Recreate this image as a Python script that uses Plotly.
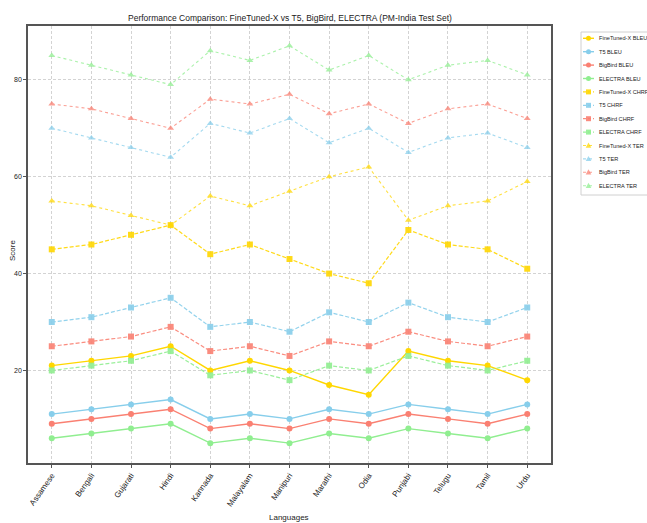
import plotly.graph_objects as go

# Languages in the PM-India test set
languages = ["Assamese", "Bengali", "Gujarati", "Hindi", "Kannada", "Malayalam",
             "Manipuri", "Marathi", "Odia", "Punjabi", "Telugu", "Tamil", "Urdu"]

# BLEU scores
finetuned_bleu = [21, 22, 23, 25, 20, 22, 20, 17, 15, 24, 22, 21, 18]
t5_bleu = [11, 12, 13, 14, 10, 11, 10, 12, 11, 13, 12, 11, 13]
bigbird_bleu = [9, 10, 11, 12, 8, 9, 8, 10, 9, 11, 10, 9, 11]
electra_bleu = [6, 7, 8, 9, 5, 6, 5, 7, 6, 8, 7, 6, 8]

# CHRF scores
finetuned_chrf = [45, 46, 48, 50, 44, 46, 43, 40, 38, 49, 46, 45, 41]
t5_chrf = [30, 31, 33, 35, 29, 30, 28, 32, 30, 34, 31, 30, 33]
bigbird_chrf = [25, 26, 27, 29, 24, 25, 23, 26, 25, 28, 26, 25, 27]
electra_chrf = [20, 21, 22, 24, 19, 20, 18, 21, 20, 23, 21, 20, 22]

# TER scores
finetuned_ter = [55, 54, 52, 50, 56, 54, 57, 60, 62, 51, 54, 55, 59]
t5_ter = [70, 68, 66, 64, 71, 69, 72, 67, 70, 65, 68, 69, 66]
bigbird_ter = [75, 74, 72, 70, 76, 75, 77, 73, 75, 71, 74, 75, 72]
electra_ter = [85, 83, 81, 79, 86, 84, 87, 82, 85, 80, 83, 84, 81]

model_colors = {"FineTuned-X": "#FFD700", "T5": "#87CEEB",
                "BigBird": "#FA8072", "ELECTRA": "#90EE90"}

series = [
    ("FineTuned-X BLEU", finetuned_bleu, "FineTuned-X", "BLEU"),
    ("T5 BLEU", t5_bleu, "T5", "BLEU"),
    ("BigBird BLEU", bigbird_bleu, "BigBird", "BLEU"),
    ("ELECTRA BLEU", electra_bleu, "ELECTRA", "BLEU"),
    ("FineTuned-X CHRF", finetuned_chrf, "FineTuned-X", "CHRF"),
    ("T5 CHRF", t5_chrf, "T5", "CHRF"),
    ("BigBird CHRF", bigbird_chrf, "BigBird", "CHRF"),
    ("ELECTRA CHRF", electra_chrf, "ELECTRA", "CHRF"),
    ("FineTuned-X TER", finetuned_ter, "FineTuned-X", "TER"),
    ("T5 TER", t5_ter, "T5", "TER"),
    ("BigBird TER", bigbird_ter, "BigBird", "TER"),
    ("ELECTRA TER", electra_ter, "ELECTRA", "TER"),
]

metric_style = {
    "BLEU": dict(dash="solid", symbol="circle", width=1.4, msize=6, opacity=1.0),
    "CHRF": dict(dash="4px,2px", symbol="square", width=1.2, msize=6, opacity=0.9),
    "TER": dict(dash="dot", symbol="triangle-up", width=1.1, msize=6, opacity=0.75),
}

FONT = "Liberation Sans, Arial, sans-serif"

W, H = 647, 523
L, R, T, B = 28, 96, 26, 60
PW, PH = W - L - R, H - T - B

fig = go.Figure()
for name, vals, model, metric in series:
    st = metric_style[metric]
    fig.add_trace(go.Scatter(
        x=languages, y=vals, name=name, mode="lines+markers",
        line=dict(color=model_colors[model], width=st["width"], dash=st["dash"]),
        marker=dict(symbol=st["symbol"], size=st["msize"], color=model_colors[model]),
        opacity=st["opacity"], showlegend=False,
    ))


def px_x(px):
    return (px - L) / PW


def px_y(py):
    return (T + PH - py) / PH


# Legend drawn as a boxed list of line/marker samples with labels
shapes = []
annotations = []
shapes.append(dict(type="rect", xref="paper", yref="paper",
                   x0=px_x(581), x1=px_x(662), y0=px_y(195), y1=px_y(32),
                   line=dict(color="#d0d0d0", width=1), fillcolor="white", layer="above"))
for i, (name, vals, model, metric) in enumerate(series):
    st = metric_style[metric]
    cy = 38.3 + i * 13.4
    col = model_colors[model]
    shapes.append(dict(type="line", xref="paper", yref="paper",
                       x0=px_x(583), x1=px_x(594), y0=px_y(cy), y1=px_y(cy),
                       line=dict(color=col, width=st["width"],
                                 dash="3px,2px" if metric == "CHRF" else st["dash"]),
                       opacity=st["opacity"], layer="above"))
    common = dict(xref="paper", yref="paper", xsizemode="pixel", ysizemode="pixel",
                  xanchor=px_x(588.5), yanchor=px_y(cy), fillcolor=col,
                  line=dict(color=col, width=0), opacity=st["opacity"], layer="above")
    if metric == "BLEU":
        shapes.append(dict(type="circle", x0=-2.5, x1=2.5, y0=-2.5, y1=2.5, **common))
    elif metric == "CHRF":
        shapes.append(dict(type="rect", x0=-2.5, x1=2.5, y0=-2.5, y1=2.5, **common))
    else:
        shapes.append(dict(type="path", path="M -2.8 -2.2 L 2.8 -2.2 L 0 3 Z", **common))
    annotations.append(dict(text=name, xref="paper", yref="paper",
                            x=px_x(597), y=px_y(cy), xanchor="left", yanchor="middle",
                            showarrow=False, font=dict(size=5.6, color="#222", family=FONT)))

# Axis titles
annotations.append(dict(text="Languages", xref="paper", yref="paper",
                        x=px_x(289), y=px_y(517), xanchor="center", yanchor="middle",
                        showarrow=False, font=dict(size=8, color="#222", family=FONT)))
annotations.append(dict(text="Score", xref="paper", yref="paper", textangle=-90,
                        x=px_x(12), y=px_y(251), xanchor="center", yanchor="middle",
                        showarrow=False, font=dict(size=8, color="#222", family=FONT)))

fig.update_layout(
    width=W, height=H,
    margin=dict(l=L, r=R, t=T, b=B),
    paper_bgcolor="white", plot_bgcolor="white",
    font=dict(family=FONT, color="#222", size=7),
    title=dict(text="Performance Comparison: FineTuned-X vs T5, BigBird, ELECTRA (PM-India Test Set)",
               x=290 / W, xanchor="center", y=1 - 18 / H, yanchor="middle",
               font=dict(size=8.5, family=FONT, color="#222")),
    shapes=shapes, annotations=annotations,
    showlegend=False,
)
fig.update_xaxes(
    automargin=False,
    tickangle=-55, tickfont=dict(size=8, family=FONT),
    showgrid=True, gridcolor="#d3d3d3", griddash="3px,2px", gridwidth=0.8,
    showline=True, linecolor="#555", linewidth=1.5, mirror=True,
    ticks="outside", ticklen=3, tickcolor="#555",
    range=[-0.6, len(languages) - 0.4],
)
fig.update_yaxes(
    automargin=False,
    range=[0.9, 91.1], tickvals=[20, 40, 60, 80], tickfont=dict(size=7, family=FONT),
    showgrid=True, gridcolor="#d3d3d3", griddash="3px,2px", gridwidth=0.8,
    showline=True, linecolor="#555", linewidth=1.5, mirror=True,
    ticks="outside", ticklen=3, tickcolor="#555", zeroline=False,
)

fig.write_html("out.html")
